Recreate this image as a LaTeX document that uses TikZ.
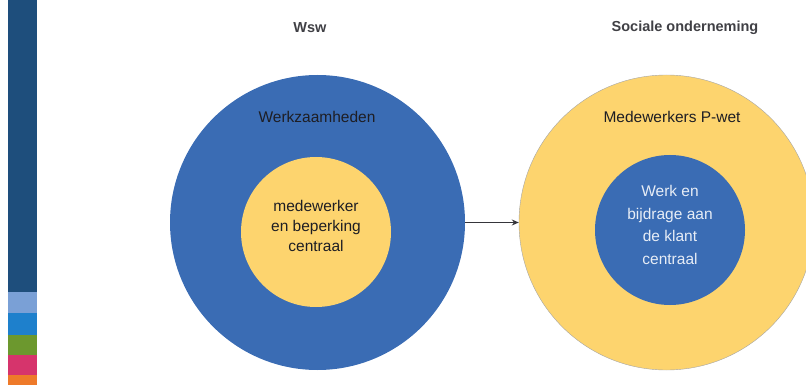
\documentclass[tikz,border=0pt]{standalone}
\usepackage{fontspec}
\setmainfont{Liberation Sans}
\usetikzlibrary{arrows.meta}
\definecolor{wswblue}{RGB}{58,108,180}
\definecolor{wswyellow}{RGB}{253,212,110}
\definecolor{bardark}{RGB}{30,78,124}
\definecolor{barlight}{RGB}{122,160,214}
\definecolor{barblue}{RGB}{30,128,204}
\definecolor{bargreen}{RGB}{108,152,46}
\definecolor{barpink}{RGB}{214,52,108}
\definecolor{barorange}{RGB}{238,122,42}
\definecolor{textdark}{RGB}{30,30,36}
\tikzstyle{outer}=[circle,minimum size=295pt,inner sep=0pt]
\tikzstyle{inner}=[circle,minimum size=150pt,inner sep=0pt]
\tikzstyle{title} = [font=\fontsize{14.5}{16}\selectfont\bfseries, text=textdark!85]
\tikzstyle{label} = [font=\fontsize{15.5}{18}\selectfont, text=textdark]
\tikzstyle{edge} = [draw,line width=1.4pt,-{Stealth[length=7pt,width=6pt]},textdark!90]

\begin{document}
\begin{tikzpicture}[x=1pt,y=-1pt]
    \useasboundingbox (0,0) rectangle (806,385);

    % colour bar on the left
    \foreach \top/\bottom/\col in {0/292/bardark, 292/313/barlight, 313/335/barblue, 335/355/bargreen, 355/375/barpink, 375/385/barorange}
        \fill[\col] (8,\top) rectangle (37,\bottom);

    \node[title] (wsw) at (310,28) {Wsw};
    \node[title] (soc) at (685,28) {Sociale onderneming};

    \node[outer, fill=wswblue] (left) at (317.5,222.5) {};
    \node[outer, fill=wswyellow, draw=gray!70, thin] (right) at (666.5,222.5) {};

    \node[inner, fill=wswyellow] (leftin) at (316,232) {};
    \node[inner, fill=wswblue] (rightin) at (670,230) {};

    \node[label] (werk) at (317,117) {Werkzaamheden};
    \node[label] (pwet) at (672,117) {Medewerkers P-wet};

    \node[label, align=center, font=\fontsize{15.5}{20}\selectfont] (leftxt) at (316,226) {medewerker\\en beperking\\centraal};
    \node[label, align=center, font=\fontsize{15.5}{22.7}\selectfont, text=white!88!wswblue] (rightxt) at (670,225) {Werk en\\bijdrage aan\\de klant\\centraal};

    \path[edge] (left.east) -- (right.west);

\end{tikzpicture}
\end{document}
